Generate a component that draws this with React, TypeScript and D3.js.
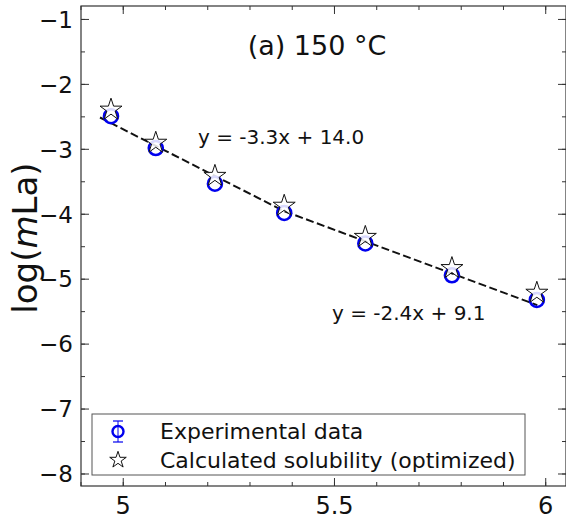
import React from "react";
import * as d3 from "d3";

const W = 566;
const H = 522;

const expX = [4.971, 5.077, 5.217, 5.381, 5.573, 5.778, 5.979];
const expY = [-2.49, -2.98, -3.53, -3.98, -4.45, -4.94, -5.32];
const calcY = [-2.39, -2.9, -3.41, -3.87, -4.35, -4.83, -5.21];
const fitX = [4.945, 5.38, 5.98];
const fitY = [-2.51, -3.95, -5.4];
const yMajor = [-8, -7, -6, -5, -4, -3, -2, -1];
const yMinor = [-8, -7.5, -7, -6.5, -6, -5.5, -5, -4.5, -4, -3.5, -3, -2.5, -2, -1.5, -1];
const xMajor = [5, 5.5, 6];
const xMajorLabels = ["5", "5.5", "6"];
const xMinor = [4.9, 5.0, 5.1, 5.2, 5.3, 5.4, 5.5, 5.6, 5.7, 5.8, 5.9, 6.0];
const eq1 = "y = -3.3x + 14.0";
const eq2 = "y = -2.4x + 9.1";
const title = "(a) 150 °C";
const legendLabels = ["Experimental data", "Calculated solubility (optimized)"];

const left = 81, right = 566, top = 6, bottom = 486;
const x = d3.scaleLinear().domain([4.9, 6.048]).range([left, right]);
const y = d3.scaleLinear().domain([-8.185, -0.793]).range([bottom, top]);

const font = "DejaVu Sans, sans-serif";
const starPath = d3.symbol().type(d3.symbolStar).size(150)() as string;
const starLegend = d3.symbol().type(d3.symbolStar).size(85)() as string;
const minus = (v: number) => (v < 0 ? "\u2212" + Math.abs(v) : String(v));

export default function App() {
  const line = d3
    .line<number>()
    .x((_, i) => x(fitX[i]))
    .y((d) => y(d));
  const axisColor = "#333";
  return (
    <svg
      width={W}
      height={H}
      style={{ position: "absolute", left: 0, top: 0, background: "#fff" }}
      fontFamily={font}
    >
      <rect x={0} y={0} width={W} height={H} fill="#fff" />
      {yMajor.map((v) => (
        <g key={"ym" + v}>
          <line x1={left} x2={left + 8} y1={y(v)} y2={y(v)} stroke={axisColor} />
          <line x1={right - 8} x2={right} y1={y(v)} y2={y(v)} stroke={axisColor} />
          <text x={73} y={y(v)} dy="0.36em" textAnchor="end" fontSize={23} fill="#111">
            {minus(v)}
          </text>
        </g>
      ))}
      {yMinor.map((v) => (
        <g key={"yn" + v}>
          <line x1={left} x2={left + 4} y1={y(v)} y2={y(v)} stroke={axisColor} />
          <line x1={right - 4} x2={right} y1={y(v)} y2={y(v)} stroke={axisColor} />
        </g>
      ))}
      {xMinor.map((v) => (
        <g key={"xn" + v}>
          <line x1={x(v)} x2={x(v)} y1={bottom} y2={bottom - 4} stroke={axisColor} />
          <line x1={x(v)} x2={x(v)} y1={top} y2={top + 4} stroke={axisColor} />
        </g>
      ))}
      {xMajor.map((v, i) => (
        <g key={"xm" + v}>
          <line x1={x(v)} x2={x(v)} y1={bottom} y2={bottom - 8} stroke={axisColor} />
          <line x1={x(v)} x2={x(v)} y1={top} y2={top + 8} stroke={axisColor} />
          <text x={x(v)} y={505} dy="0.36em" textAnchor="middle" fontSize={24} fill="#111">
            {xMajorLabels[i]}
          </text>
        </g>
      ))}
      <rect
        x={left}
        y={top}
        width={right - left}
        height={bottom - top}
        fill="none"
        stroke={axisColor}
        strokeWidth={1.2}
      />
      <path d={line(fitY) as string} fill="none" stroke="#111" strokeWidth={2} strokeDasharray="8,3.5" />
      {expX.map((xv, i) => (
        <circle key={"c" + i} cx={x(xv)} cy={y(expY[i])} r={7} fill="none" stroke="#0000ee" strokeWidth={2.6} />
      ))}
      {expX.map((xv, i) => (
        <path
          key={"s" + i}
          d={starPath}
          transform={`translate(${x(xv)},${y(calcY[i])})`}
          fill="#fff"
          fillOpacity={0.85}
          stroke="#111"
          strokeWidth={1}
        />
      ))}
      <text x={317} y={45} dy="0.36em" textAnchor="middle" fontSize={27} fill="#111">
        {title}
      </text>
      <text x={198} y={137} dy="0.36em" fontSize={20} fill="#111">
        {eq1}
      </text>
      <text x={332} y={313} dy="0.36em" fontSize={20} fill="#111">
        {eq2}
      </text>
      <text
        transform={`translate(37,${238}) rotate(-90)`}
        textAnchor="middle"
        fontSize={34}
        fill="#111"
      >
        log(<tspan fontStyle="italic">m</tspan>La)
      </text>
      <rect x={92} y={414} width={433} height={61} fill="#fff" stroke="#555" strokeWidth={1} />
      <g>
        <line x1={118} x2={118} y1={421} y2={442} stroke="#0000ee" strokeWidth={1} />
        <line x1={113} x2={123} y1={421} y2={421} stroke="#0000ee" strokeWidth={1.2} />
        <line x1={113} x2={123} y1={442} y2={442} stroke="#0000ee" strokeWidth={1.2} />
        <circle cx={118} cy={431.5} r={5.5} fill="none" stroke="#0000ee" strokeWidth={2.4} />
        <text x={160} y={431.5} dy="0.36em" fontSize={22} fill="#111">
          {legendLabels[0]}
        </text>
        <path d={starLegend} transform="translate(118,460)" fill="#fff" stroke="#111" strokeWidth={1} />
        <text x={160} y={460} dy="0.36em" fontSize={22} fill="#111">
          {legendLabels[1]}
        </text>
      </g>
    </svg>
  );
}
